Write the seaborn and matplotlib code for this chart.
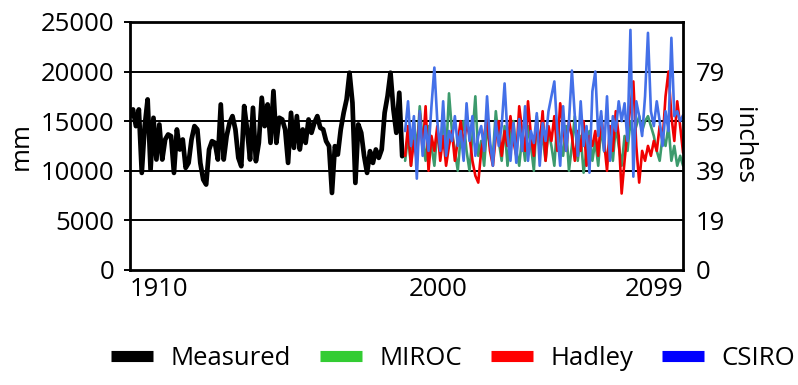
import numpy as np
import pandas as pd
import matplotlib
matplotlib.use("Agg")
import matplotlib.pyplot as plt
import matplotlib.transforms as mtransforms
from matplotlib.lines import Line2D
import seaborn as sns

# ---------------------------------------------------
# DATA
# ---------------------------------------------------

measured_start = 1910
measured = [
    15505, 16178, 14495, 16178, 9781, 14495, 17189, 10118, 15337,
    11128, 14663, 11128, 13148, 13653, 13485, 9781, 14158, 12138, 13148,
    10286, 10791, 13148, 14495, 14158, 10791, 9108, 8603, 12138, 12980,
    12811, 11128, 16684, 11128, 13485, 14832, 15505, 14158, 11296, 10455,
    16515, 14158, 11128, 16347, 10960, 12811, 17357, 14495, 16684, 12811,
    18030, 12811, 15337, 15168, 14158, 10791, 15842, 12306,
    15505, 12138, 14158, 12811, 15168, 13822, 14832, 15505, 14327,
    14158, 12980, 12475, 7761, 12475, 11633, 14158, 15842, 17189,
    19882, 16852, 8771, 14663, 13822, 11465, 9781, 11970, 10791, 12138,
    11296, 12138, 15842, 17525, 19882, 16178, 13822, 17862, 11465,
]

model_start = 2004
miroc = [
    11000, 13500, 10500, 15000, 12000, 16500, 13000, 11000, 14500, 12500,
    10500, 14000, 12000, 15500, 11500, 17800, 14000, 12000, 10000, 13500,
    15000, 12000, 10000, 13500, 17500, 11500, 13000, 10500, 14500, 12500,
    11500, 16000, 13000, 11000, 14500, 10500, 13500, 15000, 12000, 10500,
    13500, 11000, 14500, 12500, 10000, 15500, 12000, 13500, 11000, 14000,
    12500, 10500, 15000, 13000, 11500, 14500, 10000, 12500, 15500, 11000,
    13500, 9800, 12000, 14000, 11000, 13000, 10500, 14500, 12000, 11500,
    13000, 11000, 14500, 12500, 10500, 13500, 12000, 15000, 13500, 14500,
    15500, 14000, 15000, 15500, 14500, 13500, 12000, 11000, 13500, 12500,
    14500, 11000, 12500, 10500, 11500, 10500,
]
hadley = [
    11500, 14500, 10500, 13000, 11000, 15800, 12000, 16500, 10000, 13500,
    12000, 14500, 11000, 13500, 10500, 12500, 14000, 11000, 13000, 15000,
    12500, 14800, 13500, 11000, 9500, 8800, 12000, 13500, 15500, 12000,
    10500, 13500, 15000, 11500, 14000, 12500, 15500, 13000, 11500, 16500,
    14000, 12000, 17000, 13500, 11500, 15000, 12500, 16000, 11000, 14500,
    13000, 15500, 12000, 16800, 14500, 12000, 15000, 13500, 11000, 14000,
    12000, 15000, 10500, 13500, 12500, 14000, 11500, 15500, 13000, 10000,
    14500, 12000, 16000, 13500, 7700, 11000, 14000, 16500, 19000, 12500,
    8800, 12000, 11000, 12500, 11500, 13000, 12000, 14500, 13000, 17500,
    20000, 15500, 13000, 17000, 14500, 11800,
]
csiro = [
    14000, 17000, 12500, 15500, 9200, 16000, 11500, 14500, 12000, 16500,
    20400, 15000, 12000, 17000, 11500, 14000, 13000, 15500, 12500, 14000,
    11000, 16800, 13000, 15500, 11500, 13500, 14500, 12000, 17500, 13000,
    10500, 15000, 12500, 14500, 18800, 13500, 11000, 14800, 10800, 15200,
    12000, 16500, 11000, 14000, 12800, 15800, 10500, 14800, 13000, 16000,
    17500, 19000, 14000, 10500, 16500, 12000, 15000, 20100, 15500, 11500,
    17000, 12500, 14500, 9800, 18000, 20000, 13500, 16000, 12000, 17500,
    11000, 15500, 14000, 17000, 15000, 16800, 13000, 24200, 9400, 17000,
    15500, 13500, 17500, 23900, 16000, 14500, 17000, 15000, 12500, 16000,
    14000, 23400, 15500, 16000, 15000, 15600,
]

series_names = ["Measured", "MIROC", "Hadley", "CSIRO"]
line_colors = ["#000000", "#3c9a6c", "#f00000", "#4470e8"]
legend_colors = ["#000000", "#33cc33", "#ff0000", "#0000ff"]
line_widths = [3.4, 1.9, 1.9, 1.9]

y_ticks = [0, 5000, 10000, 15000, 20000, 25000]
inch_labels = ["0", "19", "39", "59", "79"]
x_ticks = [1910, 2000, 2099]

# ---------------------------------------------------
# THEME
# ---------------------------------------------------

sns.set_style("white")
plt.rcParams["font.family"] = ["Open Sans", "DejaVu Sans"]
plt.rcParams["text.color"] = "black"
plt.rcParams["axes.labelcolor"] = "black"
plt.rcParams["xtick.color"] = "black"
plt.rcParams["ytick.color"] = "black"
FS = 18.5

frames = [
    pd.DataFrame({"year": np.arange(measured_start, measured_start + len(measured)),
                  "mm": measured}),
    pd.DataFrame({"year": np.arange(model_start, model_start + len(miroc)), "mm": miroc}),
    pd.DataFrame({"year": np.arange(model_start, model_start + len(hadley)), "mm": hadley}),
    pd.DataFrame({"year": np.arange(model_start, model_start + len(csiro)), "mm": csiro}),
]

fig = plt.figure(figsize=(7.98, 3.85), dpi=100)
ax = fig.add_axes([0.163, 0.299, 0.693, 0.644])

for df, c, lw in zip(frames, line_colors, line_widths):
    sns.lineplot(data=df, x="year", y="mm", color=c, linewidth=lw, ax=ax)

ax.set_xlim(1910, 2099)
ax.set_ylim(0, 25000)
ax.set_yticks(y_ticks)
ax.set_yticklabels([str(v) for v in y_ticks], fontsize=FS)
for v in y_ticks[1:-1]:
    ax.axhline(v, color="black", linewidth=1.4, zorder=0)

ax.set_xticks(x_ticks)
ax.set_xticklabels([str(v) for v in x_ticks], fontsize=FS)
ax.tick_params(axis="x", length=0, pad=5)
ax.tick_params(axis="y", length=4, width=1.4, color="black", pad=7)
xl = ax.get_xticklabels()
xl[0].set_ha("left")
xl[1].set_ha("left")
xl[2].set_ha("right")
xl[1].set_transform(xl[1].get_transform() +
                    mtransforms.ScaledTranslation(0.15, 0, fig.dpi_scale_trans))

for s in ax.spines.values():
    s.set_color("black")
    s.set_linewidth(2.0)

ax.set_xlabel("")
ax.set_ylabel("mm", fontsize=FS, labelpad=5)

ax2 = ax.twinx()
ax2.set_ylim(0, 25000)
ax2.set_yticks(y_ticks[:-1])
ax2.set_yticklabels(inch_labels, fontsize=FS)
ax2.tick_params(axis="y", length=0, pad=9)
ax2.set_ylabel("inches", fontsize=FS, rotation=270, labelpad=22)
for s in ax2.spines.values():
    s.set_visible(False)

handles = [Line2D([0], [0], color=c, linewidth=8, solid_capstyle="butt")
           for c in legend_colors]
fig.legend(handles, series_names, loc="center", bbox_to_anchor=(0.568, 0.07),
           ncol=4, frameon=False, fontsize=FS, handlelength=1.63,
           handletextpad=0.66, columnspacing=1.15)

fig.savefig("out.png", dpi=100)
